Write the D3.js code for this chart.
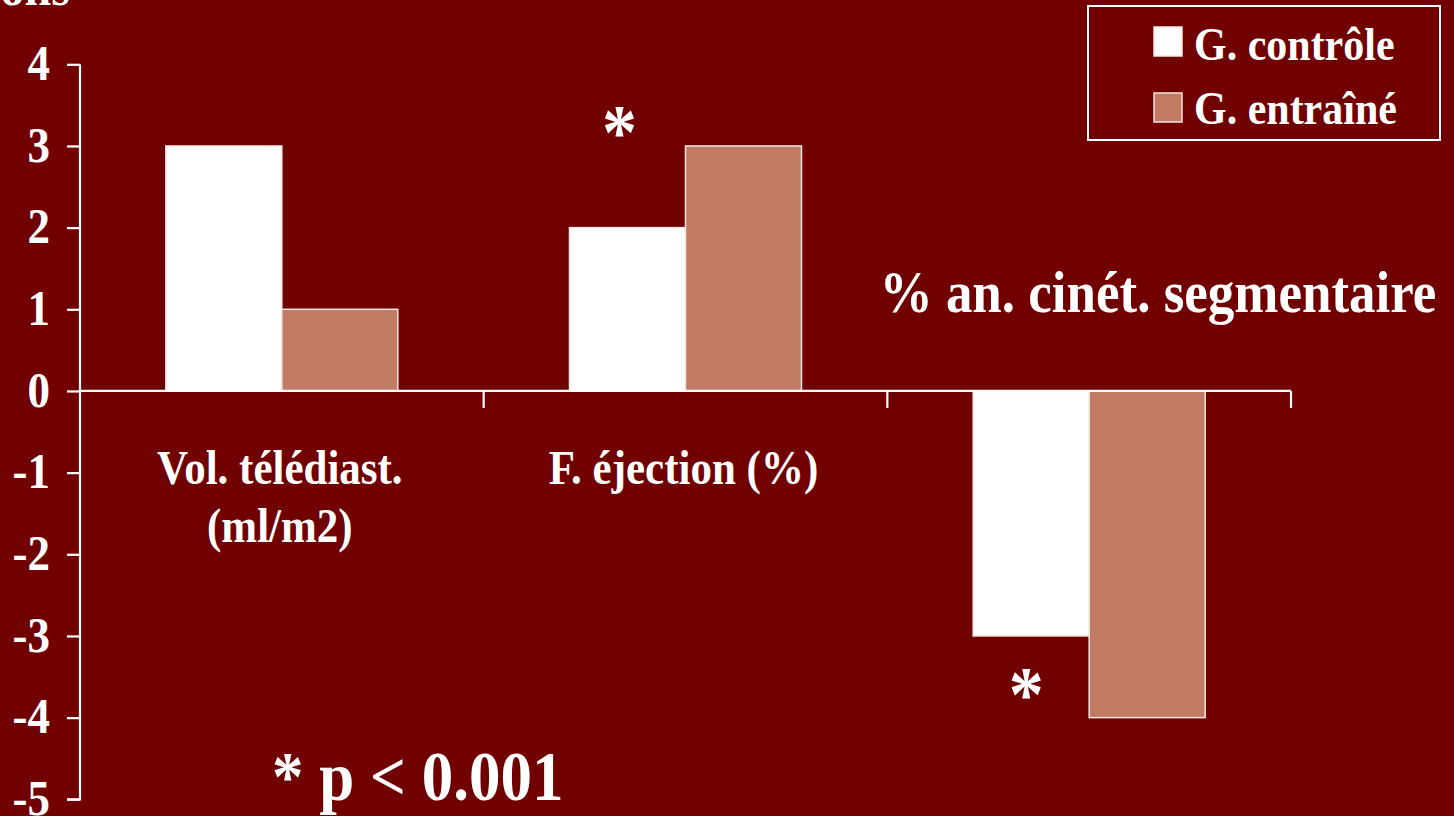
<!DOCTYPE html>
<html>
<head>
<meta charset="utf-8">
<script src="https://cdn.jsdelivr.net/npm/d3@7"></script>
<style>
  html, body { margin: 0; padding: 0; background: #710000; overflow: hidden; }
  svg { display: block; }
  text { font-family: "Liberation Serif", "Times New Roman", serif; font-weight: bold; fill: #fff; }
</style>
</head>
<body>
<script>
// Categories (each label may span several lines)
const categories = ["vol", "fe", "cin"];
const categoryLines = [["Vol. télédiast.", "(ml/m2)"], ["F. éjection (%)"], []];
const seriesNames = ["G. contrôle", "G. entraîné"];
const controlValues = [3, 2, -3];
const trainedValues = [1, 3, -4];
const yTicks = [4, 3, 2, 1, 0, -1, -2, -3, -4, -5];
const significant = [false, true, true];

const W = 1454, H = 816;
const bg = "#710000";
const colors = ["#ffffff", "#c07b62"];
const STRETCH = 1.12; // slightly tall lettering

const svg = d3.select("body").append("svg").attr("width", W).attr("height", H);
svg.append("rect").attr("width", W).attr("height", H).attr("fill", bg);

function label(parent, x, y, str, size, anchor) {
  return parent.append("text")
    .attr("transform", `translate(${x},${y}) scale(1,${STRETCH})`)
    .attr("text-anchor", anchor || "start")
    .attr("font-size", size)
    .text(str);
}

const y = d3.scaleLinear().domain([-5, 4]).range([799.3, 64.3]);
const x = d3.scaleBand().domain(categories).range([80, 1291]).padding(0);
const xs = d3.scaleBand().domain(seriesNames).range([0, x.bandwidth()]).paddingInner(0).paddingOuter(0.74);

const rows = categories.map((c, i) => ({ cat: c, vals: [controlValues[i], trainedValues[i]] }));

// Y axis
const yAxis = svg.append("g").attr("transform", "translate(80,0)")
  .call(d3.axisLeft(y).tickValues(yTicks).tickSize(13).tickPadding(17).tickFormat(d3.format("d")));
yAxis.select(".domain").attr("stroke", "#fff").attr("stroke-width", 2.2).attr("d", `M-0,${y(4)}H0V${y(-5)}H-13`);
yAxis.selectAll(".tick line").attr("stroke", "#fff").attr("stroke-width", 2.2);
yAxis.selectAll(".tick text").attr("font-size", 45).attr("fill", "#fff")
  .attr("font-family", "'Liberation Serif', 'Times New Roman', serif").attr("font-weight", "bold")
  .attr("dy", "0.3em")
  .attr("transform", `scale(1,${STRETCH})`)
  .text(d => d < 0 ? "-" + Math.abs(d) : d);

// Bars
const groups = svg.append("g").selectAll("g").data(rows).join("g")
  .attr("transform", d => `translate(${x(d.cat)},0)`);
groups.selectAll("rect").data(d => d.vals.map((v, k) => ({ v, k }))).join("rect")
  .attr("x", d => xs(seriesNames[d.k]))
  .attr("width", xs.bandwidth())
  .attr("y", d => y(Math.max(0, d.v)))
  .attr("height", d => Math.abs(y(d.v) - y(0)))
  .attr("fill", d => colors[d.k])
  .attr("stroke", "#f4e6e2").attr("stroke-width", 1.5);

// X axis line at zero with ticks at category boundaries
const xAxis = svg.append("g").attr("transform", `translate(0,${y(0)})`)
  .call(d3.axisBottom(x).tickSize(0).tickFormat(""));
xAxis.select(".domain").attr("stroke", "#fff").attr("stroke-width", 2.2).attr("d", `M80,0H1291`);
xAxis.selectAll(".tick").remove();
const bounds = categories.map(c => x(c) + x.bandwidth());
xAxis.selectAll("line.sep").data(bounds).join("line").attr("class", "sep")
  .attr("x1", d => d).attr("x2", d => d).attr("y1", 0).attr("y2", 17)
  .attr("stroke", "#fff").attr("stroke-width", 2.2);

// Category labels
categories.forEach((c, i) => {
  categoryLines[i].forEach((line, j) => {
    label(svg, x(c) + x.bandwidth() / 2 - 2, 484 + j * 58, line, 43, "middle");
  });
});

// Label for the third category, placed above the plot
label(svg, 1158, 312, "% an. cinét. segmentaire", 53, "middle");

// Significance markers
rows.forEach((r, i) => {
  if (!significant[i]) return;
  const v = r.vals[0];
  const cx = x(r.cat) + xs(seriesNames[0]) + xs.bandwidth() / 2 + (v >= 0 ? -8 : -5);
  const cy = v >= 0 ? y(Math.max(...r.vals)) - 18 : y(v) + 54;
  label(svg, cx, cy + 30, "*", 70, "middle");
});

// Axis title (top-left)
label(svg, 70, 5, "Variations", 48, "end");

// Footnote
label(svg, 272, 800, "* p < 0.001", 63, "start");

// Legend
const lg = svg.append("g");
lg.append("rect").attr("x", 1088).attr("y", 6).attr("width", 352).attr("height", 134)
  .attr("fill", "none").attr("stroke", "#fff").attr("stroke-width", 2);
seriesNames.forEach((s, k) => {
  lg.append("rect").attr("x", 1154).attr("y", 27 + k * 66).attr("width", 28).attr("height", 29)
    .attr("fill", colors[k]).attr("stroke", "#f4e6e2").attr("stroke-width", 1.5);
  label(lg, 1194, 60 + k * 64, s, 42, "start");
});
</script>
</body>
</html>
